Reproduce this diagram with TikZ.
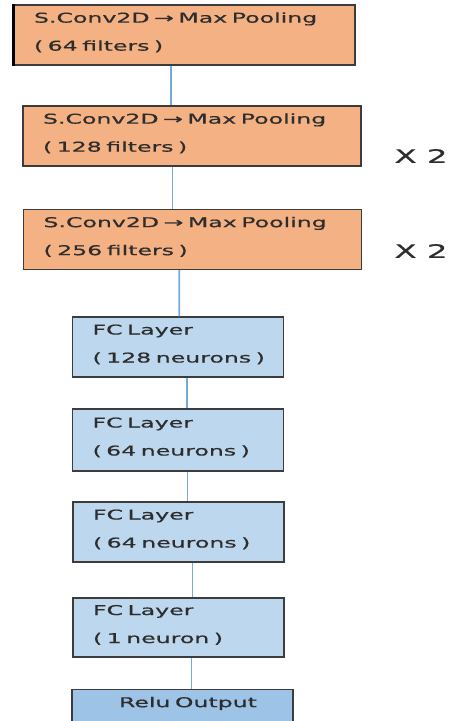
\documentclass[tikz,border=0pt]{standalone}
\usepackage{fontspec}
\newfontfamily\boxfont{DejaVu Sans}[FakeStretch=1.75,FakeBold=0.6]
\begin{document}
\begin{tikzpicture}[x=1pt,y=-1pt]
\definecolor{convcolor}{RGB}{244,177,131}
\definecolor{fccolor}{RGB}{189,215,238}
\definecolor{outcolor}{RGB}{157,195,230}
\definecolor{linkcolor}{RGB}{116,170,222}
\definecolor{textcolor}{RGB}{45,45,45}
\definecolor{edgecolor}{RGB}{60,60,60}
\tikzset{
  box/.style = {draw = edgecolor, line width = 1.3pt, text = textcolor, font = \boxfont\fontsize{13.5}{28}\selectfont, align = left, inner xsep = 20pt, inner ysep = 0pt, text depth = 35pt},
  convbox/.style = {box, fill = convcolor, text width = 298pt, minimum height = 60pt},
  fcbox/.style = {box, fill = fccolor, text width = 171pt, minimum height = 60pt},
  outbox/.style = {box, fill = outcolor, align = center, text width = 181pt, text height = 9pt, text depth = 30pt, inner ysep = 8.5pt},
  factor/.style = {text = textcolor, font = \boxfont\fontsize{18.5}{20}\selectfont},
  link/.style = {draw = linkcolor, line width = 1.6pt}
}
\useasboundingbox (0,0) rectangle (453,721);
\clip (0,0) rectangle (453,721);
% convolution blocks
\node[convbox, text width = 301pt] (conv1) at (184.5,35) {S.Conv2D → Max Pooling\\( 64 filters )};
\node[convbox] (conv2) at (192,136) {S.Conv2D → Max Pooling\\( 128 filters )};
\node[convbox] (conv3) at (192.5,239.5) {S.Conv2D → Max Pooling\\( 256 filters )};
\draw[line width = 2.5pt, black] (conv1.north west) -- (conv1.south west);
\node[factor] (rep2) at (421,156) {X 2};
\node[factor] (rep3) at (421,251) {X 2};
% fully connected blocks
\node[fcbox] (fc1) at (178,347) {\mbox{FC Layer}\\\mbox{( 128 neurons )}};
\node[fcbox, minimum height = 62pt] (fc2) at (178,440) {\mbox{FC Layer}\\\mbox{( 64 neurons )}};
\node[fcbox] (fc3) at (178.5,532) {\mbox{FC Layer}\\\mbox{( 64 neurons )}};
\node[fcbox, minimum height = 59pt] (fc4) at (178.5,627.5) {\mbox{FC Layer}\\\mbox{( 1 neuron )}};
\node[outbox, anchor = north] (out) at (182.5,689) {\hspace*{11pt}Relu Output};
% links
\draw[link] ([xshift = -13.5pt]conv1.south) -- ([xshift = -21pt]conv2.north);
\draw[link] ([xshift = -19.5pt]conv2.south) -- ([xshift = -20pt]conv3.north);
\draw[link] ([xshift = -13.3pt]conv3.south) -- ([xshift = 1.3pt]fc1.north);
\draw[link] ([xshift = 9pt]fc1.south) -- ([xshift = 9pt]fc2.north);
\draw[link] ([xshift = 9.5pt]fc2.south) -- ([xshift = 9pt]fc3.north);
\draw[link] ([xshift = 14pt]fc3.south) -- ([xshift = 14pt]fc4.north);
\draw[link] ([xshift = 13pt]fc4.south) -- ([xshift = 9pt]out.north);
\end{tikzpicture}
\end{document}
